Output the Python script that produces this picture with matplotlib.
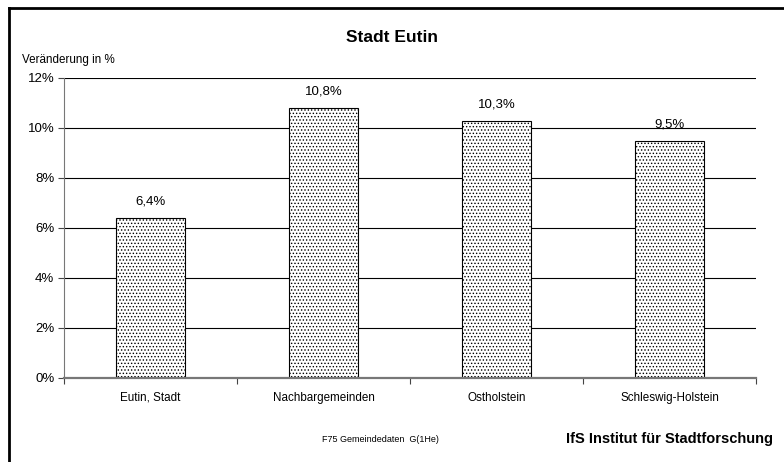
import matplotlib
matplotlib.use('Agg')
import matplotlib.pyplot as plt
from matplotlib.lines import Line2D

# data
categories = ['Eutin, Stadt', 'Nachbargemeinden', 'Ostholstein', 'Schleswig-Holstein']
values = [6.4, 10.8, 10.3, 9.5]
value_labels = ['6,4%', '10,8%', '10,3%', '9,5%']
y_ticks = [0, 2, 4, 6, 8, 10, 12]
y_tick_labels = ['0%', '2%', '4%', '6%', '8%', '10%', '12%']

plt.rcParams['font.family'] = ['Liberation Sans', 'DejaVu Sans']
plt.rcParams['hatch.linewidth'] = 0.6
plt.rcParams['hatch.color'] = '#555555'

W, H = 784, 462
fig = plt.figure(figsize=(W / 100, H / 100), dpi=100)
ax = fig.add_axes([64 / W, (H - 378) / H, 692 / W, 300 / H])

x = list(range(len(categories)))
ax.bar(x, values, width=0.4, color='white', edgecolor='black', linewidth=0.8,
       hatch='.....', zorder=3)

for xi, v, lab in zip(x, values, value_labels):
    ax.text(xi, v + 0.4, lab, ha='center', va='bottom', fontsize=9.5)

ax.set_xlim(-0.5, len(categories) - 0.5)
ax.set_ylim(0, 12)
ax.set_yticks(y_ticks)
ax.set_yticklabels(y_tick_labels, fontsize=9.5)
for yt in y_ticks[1:]:
    ax.axhline(yt, color='black', linewidth=0.8, zorder=1)

ax.set_xticks([i - 0.5 for i in range(1, len(categories))] + [-0.5, len(categories) - 0.5])
ax.set_xticklabels([])
ax.set_xticks(x, minor=True)
ax.set_xticklabels(categories, minor=True, fontsize=8.4)
ax.tick_params(axis='x', which='minor', length=0, pad=10)
ax.tick_params(axis='x', which='major', length=4, color='#444444', direction='out')
ax.tick_params(axis='y', length=4, color='#444444', direction='out', pad=3)

for s in ['top', 'right']:
    ax.spines[s].set_visible(False)
ax.spines['left'].set_color('#777777')
ax.spines['left'].set_linewidth(0.8)
ax.spines['bottom'].set_color('#777777')
ax.spines['bottom'].set_linewidth(1.6)
ax.spines['bottom'].set_zorder(4)

fig.text(392 / W, 1 - 38 / H, 'Stadt Eutin', ha='center', va='center',
         fontsize=12.5, fontweight='bold')
fig.text(22 / W, 1 - 60 / H, 'Veränderung in %', ha='left', va='center', fontsize=8.4)
fig.text(380 / W, 1 - 439 / H, 'F75 Gemeindedaten  G(1He)', ha='center', va='center',
         fontsize=6.5)
fig.text(773 / W, 1 - 439 / H, 'IfS Institut für Stadtforschung', ha='right', va='center',
         fontsize=10.5, fontweight='bold')

# frame lines top and left
fig.add_artist(Line2D([8.5 / W, 1], [1 - 7.5 / H, 1 - 7.5 / H], color='black', linewidth=2))
fig.add_artist(Line2D([8.5 / W, 8.5 / W], [0, 1 - 7.5 / H], color='black', linewidth=2))

fig.savefig('out.png', dpi=100)
